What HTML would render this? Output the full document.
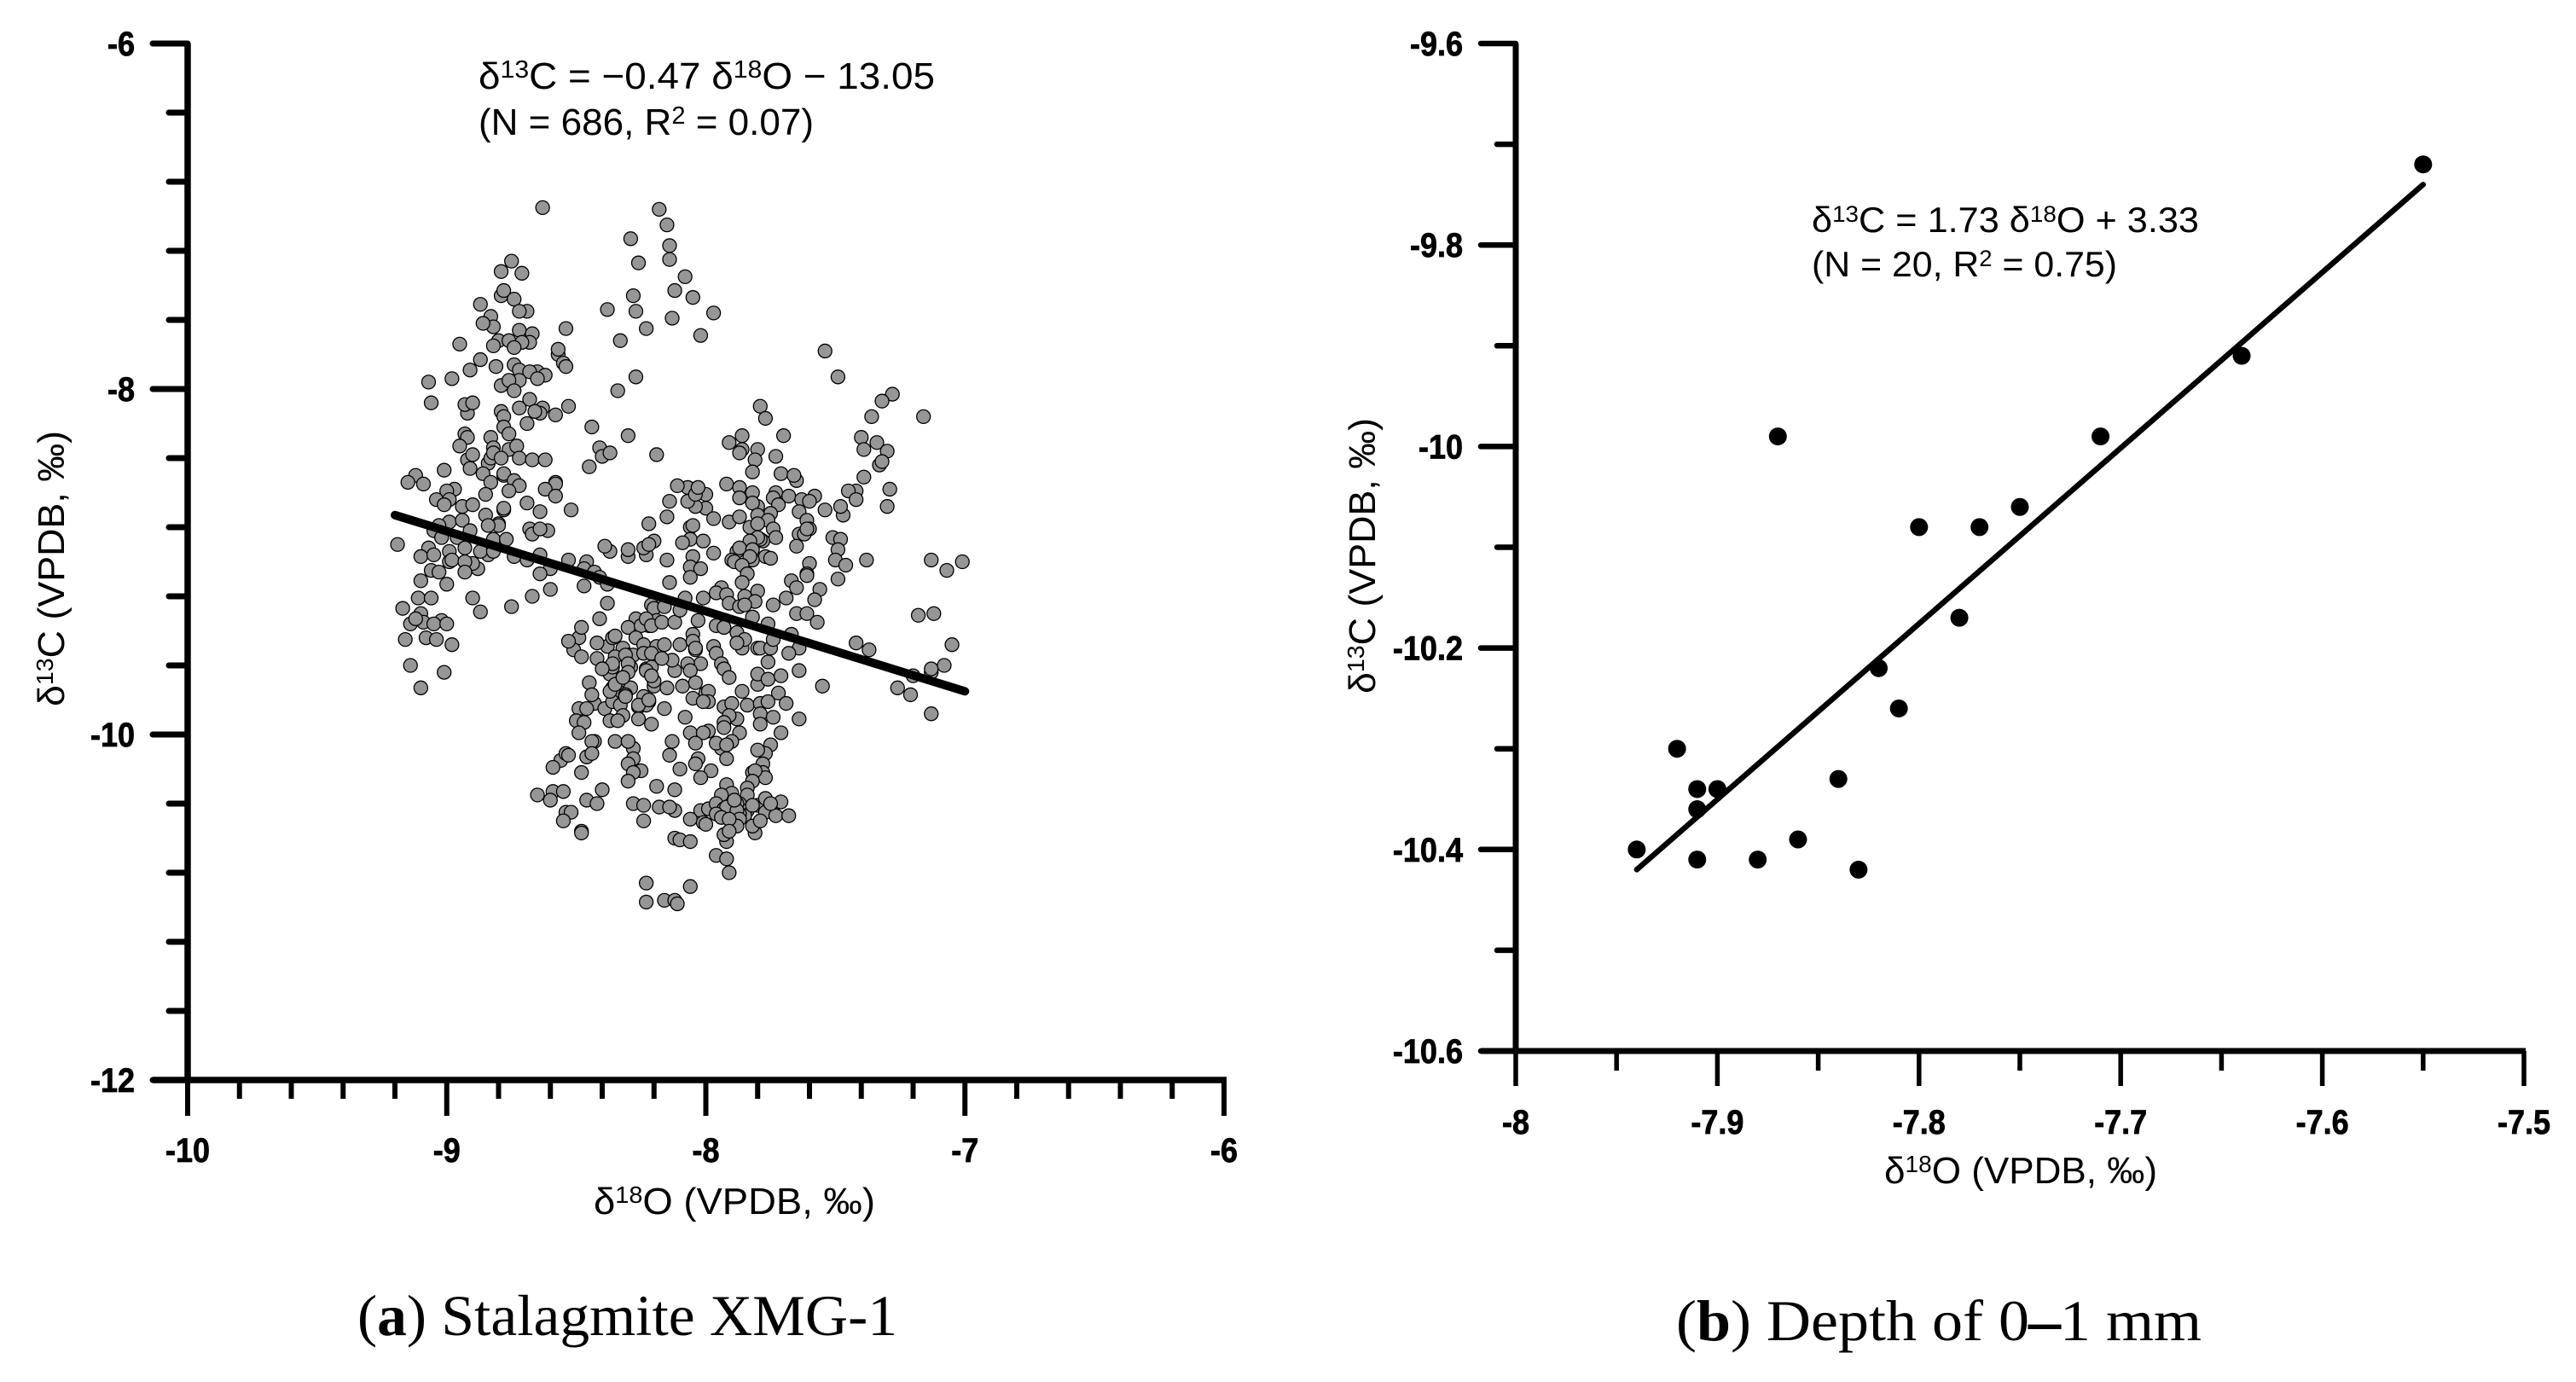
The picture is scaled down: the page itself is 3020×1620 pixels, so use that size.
<!DOCTYPE html>
<html lang="en">
<head>
<meta charset="utf-8">
<title>Stalagmite XMG-1 isotope scatter plots</title>
<style>
html,body{margin:0;padding:0;background:#fff;}
svg{display:block;}
text{font-family:"Liberation Sans",sans-serif;fill:#000;}
.cap{font-family:"Liberation Serif",serif;}
</style>
</head>
<body>
<svg id="figure" width="3020" height="1620" viewBox="0 0 3020 1620" xmlns="http://www.w3.org/2000/svg">
<rect width="3020" height="1620" fill="#fff"/>
<g id="chart-a"></g>
<g id="chart-b"></g>

<text x="561" y="104" font-size="44" textLength="535" lengthAdjust="spacingAndGlyphs">δ<tspan dy="-13" font-size="29">13</tspan><tspan dy="13">C = −0.47 δ</tspan><tspan dy="-13" font-size="29">18</tspan><tspan dy="13">O − 13.05</tspan></text>
<text x="561" y="158" font-size="44" textLength="393" lengthAdjust="spacingAndGlyphs">(N = 686, R<tspan dy="-13" font-size="29">2</tspan><tspan dy="13"> = 0.07)</tspan></text>
<text x="696" y="1423" font-size="44" textLength="330" lengthAdjust="spacingAndGlyphs">δ<tspan dy="-13" font-size="28">18</tspan><tspan dy="13">O (VPDB, ‰)</tspan></text>
<text transform="translate(75,828) rotate(-90)" font-size="44" textLength="323" lengthAdjust="spacingAndGlyphs">δ<tspan dy="-13" font-size="28">13</tspan><tspan dy="13">C (VPDB, ‰)</tspan></text>
<text class="cap" x="419" y="1565" font-size="68" textLength="633" lengthAdjust="spacingAndGlyphs">(<tspan font-weight="bold">a</tspan>) Stalagmite XMG-1</text>

<text x="2124" y="272" font-size="42" textLength="454" lengthAdjust="spacingAndGlyphs">δ<tspan dy="-12" font-size="27">13</tspan><tspan dy="12">C = 1.73 δ</tspan><tspan dy="-12" font-size="27">18</tspan><tspan dy="12">O + 3.33</tspan></text>
<text x="2124" y="324" font-size="42" textLength="358" lengthAdjust="spacingAndGlyphs">(N = 20, R<tspan dy="-12" font-size="27">2</tspan><tspan dy="12"> = 0.75)</tspan></text>
<text x="2209" y="1387" font-size="44" textLength="320" lengthAdjust="spacingAndGlyphs">δ<tspan dy="-13" font-size="28">18</tspan><tspan dy="13">O (VPDB, ‰)</tspan></text>
<text transform="translate(1612,813) rotate(-90)" font-size="44" textLength="323" lengthAdjust="spacingAndGlyphs">δ<tspan dy="-13" font-size="28">13</tspan><tspan dy="13">C (VPDB, ‰)</tspan></text>
<text class="cap" x="1965" y="1571" font-size="68" textLength="616" lengthAdjust="spacingAndGlyphs">(<tspan font-weight="bold">b</tspan>) Depth of 0<tspan stroke="#000" stroke-width="2">–</tspan>1 mm</text>
</svg>

<script>
const aXTicks = [-10,-9,-8,-7,-6];
const aXMinorTicks = [-9.8,-9.6,-9.4,-9.2,-8.8,-8.6,-8.4,-8.2,-7.8,-7.6,-7.4,-7.2,-6.8,-6.6,-6.4,-6.2];
const aYTicks = [-6,-8,-10,-12];
const aYMinorTicks = [-6.4,-6.8,-7.2,-7.6,-8.4,-8.8,-9.2,-9.6,-10.4,-10.8,-11.2,-11.6];
const aFitX = [-9.2,-7.0];
const aFitY = [-8.73,-9.75];
const aPoints = [
[-8.63,-6.95],[-8.18,-6.96],[-8.15,-7.05],[-8.29,-7.13],[-8.14,-7.17],[-8.14,-7.25],[-8.26,-7.27],[-8.08,-7.35],[-8.75,-7.26],[-8.79,-7.32],
[-8.71,-7.33],[-8.12,-7.43],[-8.28,-7.46],[-8.05,-7.47],[-8.79,-7.46],[-8.78,-7.43],[-8.74,-7.48],[-8.87,-7.51],[-8.69,-7.55],[-8.72,-7.55],
[-8.38,-7.54],[-8.27,-7.55],[-7.97,-7.56],[-8.13,-7.59],[-8.83,-7.58],[-8.82,-7.64],[-8.86,-7.62],[-8.54,-7.65],[-8.23,-7.65],[-8.72,-7.66],
[-8.67,-7.68],[-8.02,-7.69],[-8.33,-7.72],[-8.95,-7.74],[-8.80,-7.72],[-8.76,-7.72],[-8.68,-7.73],[-8.71,-7.73],[-8.82,-7.75],[-8.74,-7.76],
[-8.57,-7.80],[-8.57,-7.77],[-8.55,-7.85],[-8.54,-7.87],[-8.87,-7.83],[-8.81,-7.87],[-8.74,-7.86],[-8.65,-7.90],[-8.72,-7.89],[-8.68,-7.90],
[-8.91,-7.89],[-8.62,-7.92],[-8.65,-7.94],[-9.07,-7.96],[-8.98,-7.94],[-8.27,-7.93],[-8.76,-7.96],[-8.72,-7.95],[-8.79,-7.98],[-8.76,-7.95],
[-8.74,-8.01],[-8.34,-8.01],[-8.68,-8.06],[-9.06,-8.08],[-8.92,-8.14],[-8.93,-8.09],[-8.90,-8.08],[-8.53,-8.10],[-8.72,-8.11],[-8.63,-8.11],
[-8.79,-8.13],[-8.64,-8.14],[-8.66,-8.13],[-8.58,-8.15],[-8.78,-8.16],[-8.69,-8.20],[-8.78,-8.22],[-8.76,-8.26],[-8.93,-8.26],[-8.92,-8.28],
[-8.83,-8.28],[-8.44,-8.22],[-8.30,-8.27],[-8.41,-8.34],[-8.95,-8.33],[-8.82,-8.34],[-8.76,-8.35],[-8.73,-8.33],[-8.40,-8.39],[-8.37,-8.37],
[-8.92,-8.41],[-8.90,-8.38],[-8.84,-8.43],[-8.83,-8.40],[-8.82,-8.37],[-8.72,-8.40],[-8.67,-8.41],[-8.62,-8.41],[-8.79,-8.40],[-8.19,-8.38],[-8.45,-8.45],
[-9.01,-8.47],[-8.91,-8.46],[-8.86,-8.49],[-8.78,-8.50],[-8.78,-8.49],[-9.12,-8.50],[-9.15,-8.54],[-9.09,-8.55],[-8.83,-8.54],[-8.74,-8.53],
[-8.72,-8.56],[-8.97,-8.58],[-9.00,-8.59],[-8.76,-8.59],[-8.58,-8.54],[-8.58,-8.55],[-8.62,-8.58],[-8.58,-8.62],[-9.04,-8.64],[-8.99,-8.64],
[-9.01,-8.67],[-8.85,-8.61],[-8.94,-8.68],[-8.90,-8.67],[-8.78,-8.70],[-8.78,-8.69],[-8.69,-8.66],[-8.64,-8.71],[-8.52,-8.70],[-8.85,-8.73],
[-8.99,-8.77],[-8.94,-8.76],[-9.03,-8.79],[-8.80,-8.78],[-8.80,-8.79],[-8.84,-8.79],[-9.05,-8.82],[-8.91,-8.82],[-8.61,-8.82],[-8.68,-8.81],
[-8.67,-8.84],[-8.64,-8.81],[-8.22,-8.78],[-9.02,-8.86],[-8.96,-8.86],[-8.82,-8.87],[-8.77,-8.87],[-9.19,-8.90],[-8.99,-8.94],[-8.84,-8.96],
[-9.07,-8.92],[-8.93,-8.92],[-8.87,-8.94],[-8.82,-8.94],[-8.64,-8.96],[-9.10,-8.97],[-9.05,-8.96],[-8.74,-8.97],[-8.53,-8.99],[-8.46,-9.00],
[-8.69,-8.99],[-8.99,-9.00],[-8.98,-8.99],[-8.88,-9.04],[-8.90,-9.01],[-8.93,-9.00],[-8.37,-8.94],[-8.39,-8.91],[-8.30,-8.97],[-8.30,-8.93],
[-8.23,-8.96],[-8.24,-8.92],[-8.20,-8.88],[-8.22,-8.90],[-9.06,-9.05],[-9.03,-9.06],[-8.93,-9.06],[-8.60,-9.04],[-8.64,-9.07],[-8.47,-9.04],
[-8.43,-9.06],[-8.41,-9.09],[-8.38,-9.13],[-8.47,-9.14],[-9.10,-9.11],[-9.00,-9.13],[-8.60,-9.16],[-9.11,-9.21],[-9.06,-9.21],[-8.90,-9.21],
[-8.67,-9.20],[-8.38,-9.24],[-9.17,-9.27],[-8.87,-9.29],[-8.75,-9.26],[-8.41,-9.33],[-9.10,-9.30],[-9.14,-9.36],[-9.09,-9.35],[-9.12,-9.33],
[-9.02,-9.34],[-9.05,-9.36],[-9.00,-9.36],[-8.21,-9.25],[-8.20,-9.27],[-8.27,-9.33],[-8.30,-9.38],[-8.22,-9.37],[-8.25,-9.37],[-8.19,-9.34],
[-8.49,-9.44],[-8.48,-9.38],[-8.51,-9.51],[-8.53,-9.46],[-8.48,-9.55],[-9.16,-9.45],[-9.08,-9.44],[-9.04,-9.45],[-8.98,-9.48],[-8.38,-9.49],
[-8.42,-9.47],[-8.36,-9.44],[-8.35,-9.43],[-8.27,-9.44],[-8.32,-9.50],[-8.20,-9.50],[-8.24,-9.48],[-8.30,-9.54],[-8.28,-9.54],[-8.24,-9.53],
[-8.42,-9.56],[-8.35,-9.55],[-8.39,-9.62],[-8.37,-9.65],[-8.36,-9.61],[-8.29,-9.61],[-8.23,-9.62],[-8.21,-9.61],[-9.14,-9.60],[-9.01,-9.64],
[-8.32,-9.67],[-8.33,-9.70],[-8.45,-9.70],[-9.10,-9.73],[-8.36,-9.73],[-8.29,-9.73],[-8.34,-9.75],[-8.31,-9.77],[-8.20,-9.72],[-8.20,-9.69],
[-8.43,-9.82],[-8.44,-9.77],[-8.39,-9.85],[-8.36,-9.81],[-8.33,-9.83],[-8.22,-9.81],[-8.24,-9.78],[-8.26,-9.84],[-8.23,-9.83],[-8.49,-9.85],
[-8.46,-9.85],[-8.32,-9.89],[-8.26,-9.91],[-8.50,-9.92],[-8.47,-9.93],[-8.37,-9.92],[-8.34,-9.92],[-8.21,-9.94],
[-8.23,-9.33],[-8.21,-9.37],[-8.19,-9.49],[-8.21,-9.53],[-8.31,-9.54],[-8.30,-9.59],[-8.23,-9.63],[-8.21,-9.66],[-8.31,-9.78],[-8.26,-9.83],
[-8.22,-9.80],[-8.37,-9.75],[-8.35,-9.71],[-8.30,-9.64],[-8.32,-9.67],[-8.36,-9.59],[-8.40,-9.62],[-8.04,-9.50],
[-7.49,-7.93],[-7.28,-8.03],[-7.32,-8.07],[-7.36,-8.16],[-7.16,-8.16],[-7.79,-8.10],[-7.77,-8.17],[-7.70,-8.27],[-7.86,-8.27],[-7.91,-8.31],
[-7.86,-8.35],[-7.87,-8.37],[-7.80,-8.35],[-7.81,-8.41],[-7.73,-8.39],[-7.82,-8.48],[-7.40,-8.28],[-7.34,-8.31],[-7.39,-8.35],[-7.30,-8.36],
[-7.33,-8.44],[-7.32,-8.42],[-7.39,-8.51],[-7.29,-8.58],[-7.30,-8.68],[-7.71,-8.49],[-7.65,-8.53],[-7.66,-8.50],[-7.92,-8.55],[-7.87,-8.57],
[-7.82,-8.60],[-7.87,-8.63],[-7.73,-8.60],[-7.74,-8.63],[-7.68,-8.62],[-7.63,-8.64],[-7.58,-8.62],[-7.60,-8.65],[-7.72,-8.67],[-7.80,-8.68],
[-7.82,-8.66],[-8.00,-8.69],[-8.04,-8.68],[-8.07,-8.65],[-8.07,-8.57],[-8.00,-8.61],[-8.04,-8.61],[-8.03,-8.57],[-7.42,-8.59],[-7.45,-8.59],
[-7.42,-8.64],[-7.47,-8.73],[-7.48,-8.68],[-7.54,-8.70],[-7.64,-8.71],[-7.97,-8.75],[-7.91,-8.77],[-7.87,-8.74],[-7.75,-8.72],[-7.80,-8.73],
[-8.06,-8.80],[-8.05,-8.79],[-7.83,-8.80],[-7.76,-8.76],[-7.80,-8.78],[-7.74,-8.81],[-7.61,-8.76],[-7.60,-8.81],[-7.64,-8.84],[-7.62,-8.84],
[-7.61,-8.81],[-7.73,-8.86],[-7.78,-8.88],[-7.79,-8.87],[-7.80,-8.86],[-8.06,-8.87],[-8.01,-8.88],[-7.83,-8.88],[-7.51,-8.86],[-7.48,-8.87],
[-7.65,-8.91],[-7.49,-8.93],[-7.88,-8.94],[-7.87,-8.92],[-7.82,-8.93],[-7.97,-8.95],[-8.05,-8.97],[-7.77,-8.97],[-7.75,-8.98],[-7.82,-8.99],
[-7.83,-8.97],[-7.90,-8.99],[-7.89,-9.00],[-7.86,-9.02],[-7.50,-8.99],[-7.46,-9.02],[-7.38,-8.99],[-7.13,-8.99],[-7.01,-9.00],[-7.07,-9.05],
[-7.60,-9.01],[-8.06,-9.03],[-8.02,-9.04],[-8.06,-9.09],[-7.84,-9.07],[-7.61,-9.07],[-7.61,-9.08],[-7.86,-9.12],[-7.49,-9.10],[-7.67,-9.11],
[-7.65,-9.15],[-7.56,-9.16],[-7.94,-9.15],[-7.96,-9.18],[-7.92,-9.19],[-7.80,-9.17],[-7.85,-9.20],[-7.81,-9.23],[-8.01,-9.21],[-7.91,-9.24],
[-7.87,-9.26],[-7.85,-9.25],[-7.69,-9.21],[-7.58,-9.22],[-7.74,-9.25],[-8.08,-9.21],[-7.18,-9.31],[-7.12,-9.30],[-7.65,-9.30],[-7.61,-9.30],
[-7.57,-9.35],[-7.82,-9.32],[-8.03,-9.34],[-7.76,-9.36],[-7.96,-9.37],[-7.93,-9.38],[-7.54,-7.78],
[-8.11,-8.56],[-8.14,-8.65],[-8.15,-8.74],[-8.09,-8.89],[-8.15,-8.99],[-8.14,-9.12],[-8.16,-9.26],[-8.17,-9.35],[-8.12,-9.35],[-8.10,-9.28],
[-8.05,-9.42],[-8.16,-9.48],[-8.10,-9.48],[-8.05,-9.46],[-8.04,-9.51],[-8.04,-9.50],[-7.97,-9.49],[-7.96,-9.53],[-7.88,-9.41],[-7.86,-9.50],
[-7.85,-9.45],[-7.88,-9.47],[-7.80,-9.50],[-7.79,-9.50],[-7.75,-9.50],[-7.74,-9.45],[-7.64,-9.50],[-7.68,-9.53],[-7.76,-9.58],[-7.94,-9.59],
[-7.93,-9.62],[-7.91,-9.67],[-8.02,-9.59],[-8.07,-9.59],[-8.06,-9.63],[-8.12,-9.63],[-8.13,-9.57],[-8.17,-9.56],[-8.15,-9.73],[-8.09,-9.72],
[-8.04,-9.70],[-7.80,-9.71],[-7.80,-9.65],[-7.76,-9.68],[-7.71,-9.66],[-7.64,-9.63],[-7.55,-9.72],[-7.26,-9.73],[-7.21,-9.77],[-7.20,-9.66],
[-7.13,-9.64],[-7.13,-9.62],[-7.08,-9.60],[-7.13,-9.88],[-7.86,-9.75],[-7.72,-9.76],[-8.00,-9.76],[-7.99,-9.75],[-8.05,-9.79],[-7.99,-9.81],
[-8.01,-9.81],[-7.93,-9.84],[-7.90,-9.82],[-7.84,-9.83],[-7.79,-9.82],[-7.76,-9.81],[-7.69,-9.82],[-8.16,-9.85],[-8.08,-9.90],[-7.88,-9.91],
[-7.91,-9.89],[-7.93,-9.93],[-7.93,-9.96],[-7.79,-9.88],[-7.79,-9.94],[-7.74,-9.90],[-7.64,-9.91],[-7.42,-9.47],[-7.37,-9.51],[-7.05,-9.48],[-7.67,-9.42],
[-8.49,-9.99],[-8.43,-10.04],[-8.44,-10.04],[-8.35,-10.04],[-8.28,-10.08],[-8.30,-10.04],[-8.13,-10.04],[-8.06,-9.99],[-7.99,-9.98],[-8.01,-9.99],
[-7.71,-9.99],[-7.87,-9.99],[-8.04,-10.05],[-7.90,-10.04],[-7.94,-10.08],[-7.96,-10.05],[-7.92,-10.06],[-7.75,-10.06],[-7.77,-10.11],[-7.80,-10.09],
[-8.14,-10.12],[-7.92,-10.14],[-8.56,-10.15],[-8.59,-10.19],[-8.54,-10.11],[-8.53,-10.12],[-8.46,-10.13],[-8.44,-10.11],[-8.48,-10.22],[-8.28,-10.14],
[-8.30,-10.17],[-8.25,-10.21],[-8.28,-10.22],[-8.30,-10.27],[-8.10,-10.20],[-8.03,-10.14],[-8.04,-10.17],[-7.98,-10.21],[-8.02,-10.25],[-7.78,-10.17],
[-7.82,-10.22],[-7.78,-10.22],[-7.77,-10.25],[-7.81,-10.21],[-7.82,-10.27],[-8.19,-10.30],[-8.12,-10.32],[-7.92,-10.29],[-7.90,-10.34],[-7.94,-10.35],
[-7.84,-10.31],[-7.84,-10.35],[-8.40,-10.32],[-8.59,-10.33],[-8.55,-10.33],[-8.65,-10.35],[-8.60,-10.38],[-8.46,-10.38],[-8.42,-10.40],[-8.28,-10.40],
[-8.24,-10.41],[-8.12,-10.44],[-8.18,-10.42],[-8.14,-10.42],[-8.02,-10.44],[-7.99,-10.43],[-7.96,-10.40],[-7.94,-10.45],[-7.93,-10.43],[-7.90,-10.44],
[-7.87,-10.40],[-7.84,-10.44],[-7.80,-10.41],[-7.77,-10.37],[-7.74,-10.41],[-7.71,-10.39],[-7.77,-10.45],[-7.73,-10.47],[-7.68,-10.47],[-7.85,-10.47],
[-7.88,-10.40],[-7.87,-10.46],[-7.92,-10.42],[-7.96,-10.46],[-7.88,-10.44],[-7.82,-10.41],[-7.75,-10.40],[-7.89,-10.38],[-7.94,-10.48],[-7.87,-10.49],
[-7.81,-10.57],[-7.82,-10.53],[-7.79,-10.50],[-7.88,-10.53],[-7.91,-10.49],[-8.06,-10.49],[-8.01,-10.51],[-8.00,-10.52],[-8.24,-10.50],[-8.54,-10.45],
[-8.52,-10.45],[-8.55,-10.50],[-8.48,-10.56],[-8.48,-10.57],[-8.12,-10.60],[-8.10,-10.61],[-8.06,-10.62],[-7.92,-10.62],[-7.93,-10.58],[-7.91,-10.56],
[-7.96,-10.70],[-7.92,-10.72],[-7.91,-10.80],[-8.23,-10.86],[-8.06,-10.88],[-8.23,-10.97],[-8.16,-10.96],[-8.12,-10.96],[-8.11,-10.98]
];

const bXTicks = [-8,-7.9,-7.8,-7.7,-7.6,-7.5];
const bXMinorTicks = [-7.95,-7.85,-7.75,-7.65,-7.55];
const bYTicks = [-9.6,-9.8,-10,-10.2,-10.4,-10.6];
const bYMinorTicks = [-9.7,-9.9,-10.1,-10.3,-10.5];
const bFitX = [-7.94,-7.55];
const bFitY = [-10.42,-9.74];
const bPointsX = [-7.94,-7.92,-7.91,-7.90,-7.91,-7.91,-7.88,-7.86,-7.84,-7.83,-7.82,-7.81,-7.87,-7.80,-7.77,-7.75,-7.78,-7.71,-7.64,-7.55];
const bPointsY = [-10.40,-10.30,-10.34,-10.34,-10.36,-10.41,-10.41,-10.39,-10.33,-10.42,-10.22,-10.26,-9.99,-10.08,-10.08,-10.06,-10.17,-9.99,-9.91,-9.72];

const SVGNS = 'http://www.w3.org/2000/svg';
const xA = v => 220 + (v + 10) * 303.75;
const yA = v => 51 + (-6 - v) * 202.5;
const xB = v => 1777 + (v + 8) * 2364;
const yB = v => 51 + (-9.6 - v) * 1181;

function addLine(parent, name, x1, y1, x2, y2, w, cap) {
  const el = document.createElementNS(SVGNS, 'line');
  
  
  el.setAttribute('x1', x1);
  el.setAttribute('y1', y1);
  el.setAttribute('x2', x2);
  el.setAttribute('y2', y2);
  el.setAttribute('stroke', '#000');
  el.setAttribute('stroke-width', w);
  el.setAttribute('stroke-linecap', cap);
  parent.appendChild(el);
}

function addLabel(parent, name, x, y, anchor, value) {
  const el = document.createElementNS(SVGNS, 'text');
  
  
  el.setAttribute('x', x);
  el.setAttribute('y', y);
  el.setAttribute('text-anchor', anchor);
  el.setAttribute('font-size', '40');
  el.setAttribute('font-weight', 'bold');
  el.setAttribute('stroke', '#000');
  el.setAttribute('stroke-width', '0.8');
  el.textContent = String(value);
  parent.appendChild(el);
  const natural = el.getComputedTextLength();
  el.setAttribute('textLength', (natural * 0.9).toFixed(1));
  el.setAttribute('lengthAdjust', 'spacingAndGlyphs');
}

function addDot(parent, name, cx, cy, r, fill, strokeW) {
  const el = document.createElementNS(SVGNS, 'circle');
  
  
  el.setAttribute('cx', cx);
  el.setAttribute('cy', cy);
  el.setAttribute('r', r);
  el.setAttribute('fill', fill);
  el.setAttribute('stroke', '#000');
  el.setAttribute('stroke-width', strokeW);
  parent.appendChild(el);
}

// Chart A
const gA = document.getElementById('chart-a');
aPoints.forEach(p => addDot(gA, 'data-point', xA(p[0]), yA(p[1]), 8, '#969696', 1.3));
addLine(gA, 'trend-line', xA(aFitX[0]), yA(aFitY[0]), xA(aFitX[1]), yA(aFitY[1]), 10, 'round');
addLine(gA, 'y-axis-line', xA(-10), yA(-6), xA(-10), yA(-12), 7.5, 'butt');
addLine(gA, 'x-axis-line', xA(-10) - 41, yA(-12), xA(-6) + 3, yA(-12), 7.5, 'butt');
aYTicks.forEach(v => {
  addLine(gA, 'y-major-tick', xA(-10), yA(v), xA(-10) - 41, yA(v), 7, 'round');
  addLabel(gA, 'y-tick-label', 158, yA(v) + 14, 'end', v);
});
aYMinorTicks.forEach(v => addLine(gA, 'y-minor-tick', xA(-10), yA(v), xA(-10) - 22, yA(v), 7, 'round'));
aXTicks.forEach(v => {
  addLine(gA, 'x-major-tick', xA(v), yA(-12), xA(v), 1308, 6, 'butt');
  addLabel(gA, 'x-tick-label', xA(v), 1362, 'middle', v);
});
aXMinorTicks.forEach(v => addLine(gA, 'x-minor-tick', xA(v), yA(-12), xA(v), 1288, 6, 'butt'));

// Chart B
const gB = document.getElementById('chart-b');
bPointsX.forEach((x, i) => addDot(gB, 'data-point', xB(x), yB(bPointsY[i]), 10.5, '#000', 0));
addLine(gB, 'trend-line', xB(bFitX[0]), yB(bFitY[0]), xB(bFitX[1]), yB(bFitY[1]), 6.5, 'round');
addLine(gB, 'y-axis-line', xB(-8), yB(-9.6), xB(-8), yB(-10.6), 7, 'butt');
addLine(gB, 'x-axis-line', xB(-8) - 41, yB(-10.6), xB(-7.5) + 2, yB(-10.6), 7, 'butt');
bYTicks.forEach(v => {
  addLine(gB, 'y-major-tick', xB(-8), yB(v), xB(-8) - 41, yB(v), 6.5, 'round');
  addLabel(gB, 'y-tick-label', 1715, yB(v) + 14, 'end', v);
});
bYMinorTicks.forEach(v => addLine(gB, 'y-minor-tick', xB(-8), yB(v), xB(-8) - 22, yB(v), 6.5, 'round'));
bXTicks.forEach(v => {
  addLine(gB, 'x-major-tick', xB(v), yB(-10.6), xB(v), 1273, 5.5, 'butt');
  addLabel(gB, 'x-tick-label', xB(v), 1329, 'middle', v);
});
bXMinorTicks.forEach(v => addLine(gB, 'x-minor-tick', xB(v), yB(-10.6), xB(v), 1255, 5.5, 'butt'));
</script>
</body>
</html>
